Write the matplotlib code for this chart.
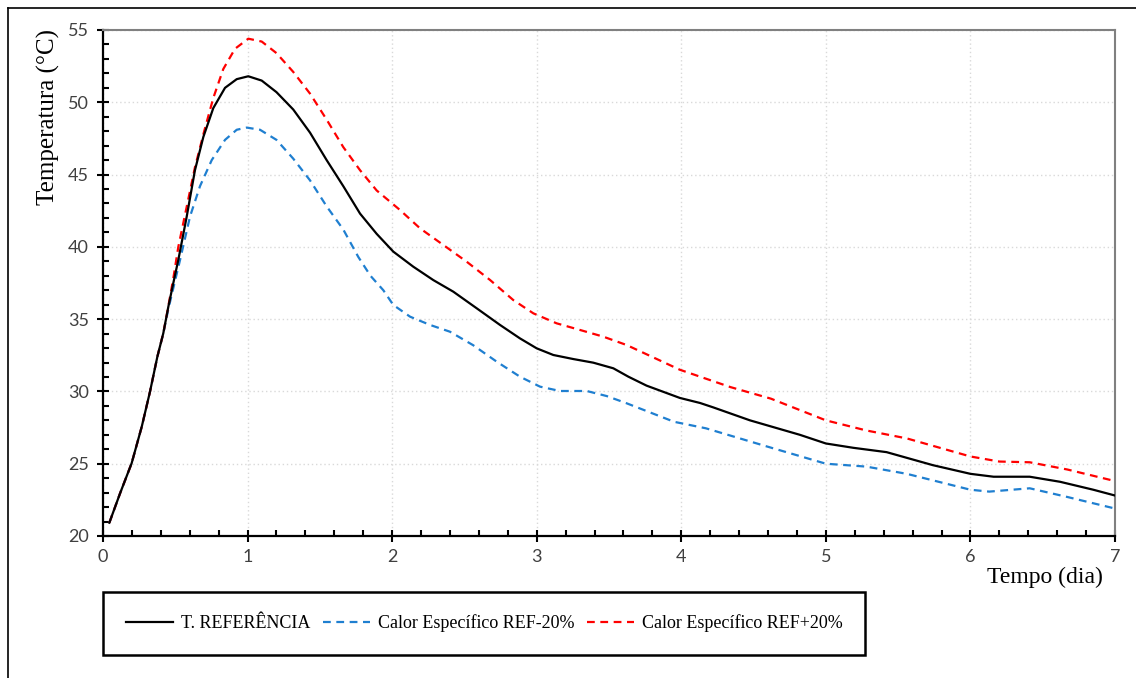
import matplotlib
matplotlib.use('agg')
import matplotlib.pyplot as plt
from matplotlib.lines import Line2D
from matplotlib.ticker import MultipleLocator

# temperatura (°C) ao longo do tempo (dia)
ref_x = [0.044, 0.118, 0.198, 0.268, 0.325, 0.376, 0.417, 0.452, 0.486, 0.521,
         0.579, 0.636, 0.694, 0.763, 0.844, 0.925, 1.005, 1.098, 1.2, 1.316,
         1.432, 1.547, 1.662, 1.778, 1.893, 2.008, 2.146, 2.285, 2.423, 2.585,
         2.746, 2.884, 3.0, 3.115, 3.253, 3.391, 3.53, 3.634, 3.76, 3.99, 4.13,
         4.22, 4.475, 4.82, 5.0, 5.19, 5.42, 5.74, 6.0, 6.16, 6.41, 6.62, 6.85, 7.0]
ref_y = [20.92, 22.95, 25.03, 27.56, 29.98, 32.4, 34.02, 35.86, 37.48, 39.1,
         42.09, 45.3, 47.6, 49.6, 51.0, 51.6, 51.8, 51.5, 50.7, 49.5,
         47.9, 46.0, 44.2, 42.3, 40.9, 39.67, 38.63, 37.7, 36.9, 35.75,
         34.6, 33.67, 32.98, 32.52, 32.24, 31.99, 31.6, 31.02, 30.4, 29.55, 29.2,
         28.9, 28.0, 27.0, 26.4, 26.1, 25.8, 24.9, 24.3, 24.1, 24.1, 23.75, 23.2, 22.8]

menos_x = [0.044, 0.118, 0.198, 0.268, 0.325, 0.376, 0.417, 0.452, 0.49, 0.533,
           0.602, 0.671, 0.752, 0.844, 0.925, 0.994, 1.086, 1.2, 1.316, 1.432,
           1.547, 1.662, 1.766, 1.85, 1.939, 2.008, 2.124, 2.262, 2.4, 2.56,
           2.723, 2.884, 3.023, 3.161, 3.346, 3.484, 3.622, 3.95, 4.17, 4.59,
           5.0, 5.28, 5.56, 6.0, 6.13, 6.41, 6.67, 7.0]
menos_y = [20.92, 22.95, 25.03, 27.56, 29.98, 32.4, 34.0, 35.7, 37.3, 39.1,
           42.1, 44.2, 46.0, 47.4, 48.1, 48.25, 48.1, 47.4, 46.1, 44.6,
           42.8, 41.2, 39.3, 38.0, 37.0, 35.98, 35.17, 34.6, 34.13, 33.2,
           32.06, 31.02, 30.33, 30.03, 30.03, 29.68, 29.18, 27.9, 27.45, 26.2,
           25.0, 24.8, 24.3, 23.2, 23.07, 23.3, 22.7, 21.9]

mais_x = [0.044, 0.118, 0.198, 0.268, 0.325, 0.376, 0.417, 0.452, 0.486, 0.521,
          0.59, 0.636, 0.70, 0.763, 0.832, 0.913, 1.005, 1.098, 1.2, 1.316,
          1.432, 1.547, 1.662, 1.778, 1.893, 2.054, 2.193, 2.354, 2.516, 2.677,
          2.838, 2.977, 3.138, 3.3, 3.46, 3.622, 3.99, 4.34, 4.62, 5.0, 5.28,
          5.56, 6.0, 6.2, 6.41, 6.67, 7.0]
mais_y = [20.92, 22.95, 25.03, 27.56, 29.98, 32.4, 34.02, 35.9, 37.8, 40.0,
          43.3, 45.5, 48.0, 50.3, 52.3, 53.7, 54.4, 54.2, 53.4, 52.1,
          50.6, 48.8, 46.9, 45.3, 43.9, 42.55, 41.28, 40.13, 38.97, 37.71,
          36.32, 35.4, 34.71, 34.25, 33.79, 33.21, 31.5, 30.3, 29.5, 28.0, 27.3,
          26.75, 25.5, 25.15, 25.1, 24.6, 23.8]

labels = ['T. REFERÊNCIA', 'Calor Específico REF-20%', 'Calor Específico REF+20%']

W, H = 1136, 678
fig = plt.figure(figsize=(W / 100, H / 100), dpi=100)
ax = fig.add_axes([103 / W, 1 - 536 / H, (1115 - 103) / W, (536 - 30) / H])

ax.plot(ref_x, ref_y, color='black', lw=1.6, label=labels[0], zorder=3,
        solid_joinstyle='round')
ax.plot(menos_x, menos_y, color='#1f7fd0', lw=1.6, dashes=(3.5, 2.5),
        label=labels[1], zorder=2)
ax.plot(mais_x, mais_y, color='#ff0000', lw=1.6, dashes=(3.5, 2.5),
        label=labels[2], zorder=2)

ax.set_xlim(0, 7)
ax.set_ylim(20, 55)
ax.xaxis.set_major_locator(MultipleLocator(1))
ax.xaxis.set_minor_locator(MultipleLocator(0.2))
ax.yaxis.set_major_locator(MultipleLocator(5))
ax.yaxis.set_minor_locator(MultipleLocator(1))
ax.grid(True, which='major', color='#d9d9d9', lw=1, linestyle=(0, (1, 2)))

for s in ['left', 'bottom']:
    ax.spines[s].set_color('black')
    ax.spines[s].set_linewidth(1.6)
for s in ['top', 'right']:
    ax.spines[s].set_color('#808080')
    ax.spines[s].set_linewidth(1.5)

ax.tick_params(which='major', direction='inout', length=8, width=1.5,
               color='black', labelsize=13, labelcolor='#404040', pad=5)
ax.tick_params(which='minor', direction='in', length=4, width=1.5, color='black')
ax.tick_params(axis='y', which='major', pad=6)
for lab in ax.get_xticklabels() + ax.get_yticklabels():
    lab.set_family('Lato')

fig.text(48 / W, 1 - 117 / H, 'Temperatura (°C)', rotation=90, ha='center',
         va='center', family='Liberation Serif', fontsize=18)
fig.text(1045 / W, 1 - 577 / H, 'Tempo (dia)', ha='center', va='center',
         family='Liberation Serif', fontsize=17)

leg = fig.legend(loc='upper left', ncol=3,
                 bbox_to_anchor=(103 / W, 1 - 592 / H),
                 prop={'family': 'Liberation Serif', 'size': 13},
                 handlelength=2.6, handletextpad=0.45, borderpad=1.25,
                 columnspacing=0.7, borderaxespad=0,
                 fancybox=False, framealpha=1, edgecolor='black')
leg.get_frame().set_linewidth(1.8)

# moldura externa (topo e esquerda)
fig.add_artist(Line2D([8 / W, 1], [1 - 8 / H, 1 - 8 / H], color='black', lw=1.2))
fig.add_artist(Line2D([8 / W, 8 / W], [0, 1 - 8 / H], color='black', lw=1.2))

fig.savefig('out.png', dpi=100)
